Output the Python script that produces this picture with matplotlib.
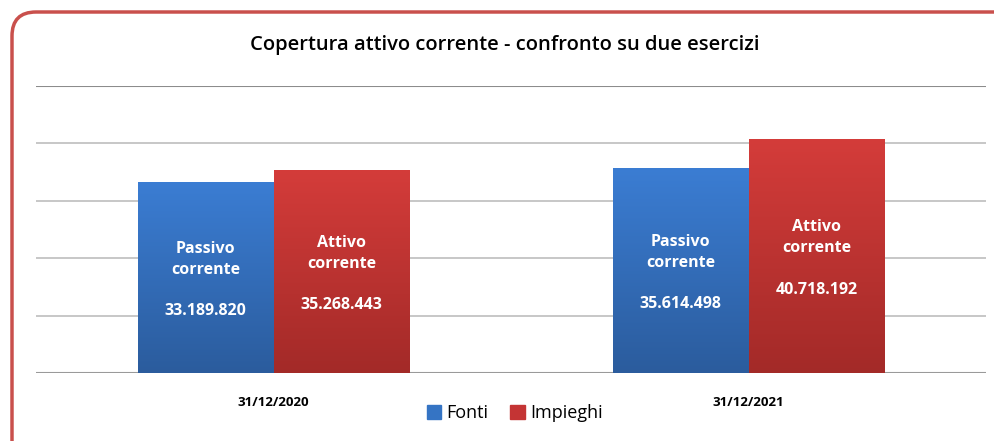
import numpy as np
import matplotlib.pyplot as plt
from matplotlib.patches import FancyBboxPatch
from matplotlib.transforms import IdentityTransform

plt.rcParams['font.family'] = ['Open Sans', 'DejaVu Sans']

dates = ['31/12/2020', '31/12/2021']
fonti = [33189820, 35614498]
impieghi = [35268443, 40718192]
fonti_label = 'Passivo\ncorrente'
impieghi_label = 'Attivo\ncorrente'


def fmt(v):
    return f'{v:,}'.replace(',', '.')


fig = plt.figure(figsize=(9.94, 4.41), dpi=100)
ax = fig.add_axes([36 / 994, 1 - 373 / 441, 950 / 994, 287 / 441])

x = np.arange(len(dates))
w = 0.286

# gradient bars
grad = np.linspace(0, 1, 256).reshape(-1, 1)
series = [(fonti, -w / 2, '#3b7dd3', '#2b5c9d', fonti_label),
          (impieghi, w / 2, '#d43c3a', '#a32a28', impieghi_label)]
for vals, off, top, bot, lab in series:
    cmap = plt.matplotlib.colors.LinearSegmentedColormap.from_list('g', [bot, top])
    for xi, v in zip(x, vals):
        ax.imshow(grad, cmap=cmap, aspect='auto', origin='lower',
                  extent=(xi + off - w / 2, xi + off + w / 2, 0, v), zorder=2)
        ax.text(xi + off, v / 2 - 0.4e6, lab + '\n\n' + fmt(v), color='white',
                ha='center', va='center', fontsize=11.5, fontweight='bold',
                linespacing=1.4, zorder=3)

ax.set_xlim(-0.5, 1.5)
ax.set_ylim(0, 50e6)
ax.set_yticks(np.arange(0, 50e6 + 1, 10e6))
ax.yaxis.grid(True, color='#bdbdbd', linewidth=1.2, zorder=0)
ax.axhline(50e6, color='#8c8c8c', linewidth=1.5, zorder=1)
ax.axhline(0, color='#9a9a9a', linewidth=1.5, zorder=1)
ax.set_axisbelow(True)
for s in ax.spines.values():
    s.set_visible(False)
ax.tick_params(left=False, bottom=False, labelleft=False, pad=13)
ax.set_xticks(x)
ax.set_xticklabels(dates, fontsize=9.5, fontweight='bold')

# legend
h1 = plt.Rectangle((0, 0), 1, 1, color='#3574c4')
h2 = plt.Rectangle((0, 0), 1, 1, color='#c43434')
fig.legend([h1, h2], ['Fonti', 'Impieghi'], loc='center', bbox_to_anchor=(0.518, 0.063),
           ncol=2, frameon=False, fontsize=13, handlelength=0.8, handleheight=0.8,
           handletextpad=0.3, columnspacing=1.2)

fig.text(0.508, 1 - 45 / 441, 'Copertura attivo corrente - confronto su due esercizi',
         ha='center', va='center', fontsize=14.5, fontweight='semibold')

border = FancyBboxPatch((12, -30), 1020, 459, boxstyle='round,pad=0,rounding_size=24',
                        transform=IdentityTransform(), fill=False,
                        edgecolor='#c9504c', linewidth=2.5)
fig.patches.append(border)

fig.savefig('out.png', dpi=100)
